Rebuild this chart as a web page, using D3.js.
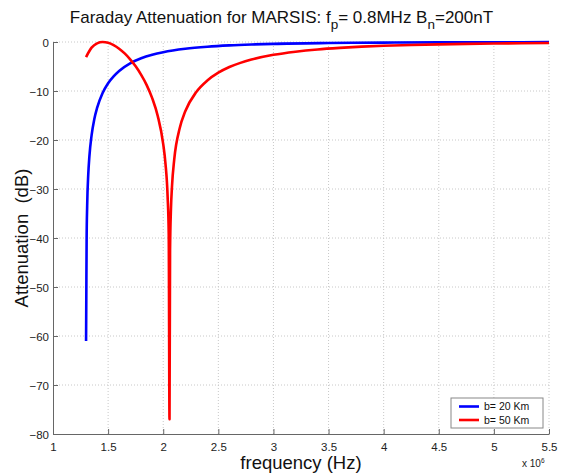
<!DOCTYPE html>
<html>
<head>
<meta charset="utf-8">
<script src="https://cdn.jsdelivr.net/npm/d3@7"></script>
<style>
  body { margin: 0; background: #fff; }
  text { font-family: "Liberation Sans", Arial, sans-serif; }
</style>
</head>
<body>
<div id="chart"></div>
<script>
// valeurs (frequence en x 10^6 Hz, attenuation en dB)
const freqBlue = [1.300, 1.302, 1.305, 1.31, 1.32, 1.33, 1.35, 1.375, 1.40, 1.45, 1.50, 1.55, 1.60, 1.70, 1.80, 1.90, 2.00, 2.20, 2.40, 2.60, 2.80, 3.00, 3.50, 4.00, 4.50, 5.00, 5.50];
const attBlue  = [-61, -52.8, -40.5, -33.4, -27.0, -23.4, -19.05, -15.7, -13.45, -10.4, -8.4, -7.0, -5.9, -4.36, -3.33, -2.61, -2.08, -1.38, -0.96, -0.69, -0.51, -0.38, -0.21, -0.12, -0.075, -0.05, -0.034];

const freqRed = [1.30, 1.35, 1.40, 1.45, 1.50, 1.55, 1.60, 1.65, 1.70, 1.75, 1.80, 1.85, 1.90, 1.95, 2.00, 2.02, 2.04, 2.05, 2.057, 2.062, 2.07, 2.08, 2.10, 2.15, 2.20, 2.30, 2.40, 2.50, 2.60, 2.70, 2.80, 3.00, 3.20, 3.40, 3.60, 3.80, 4.00, 4.25, 4.50, 4.75, 5.00, 5.25, 5.50];
const attRed  = [-3.07, -1.16, -0.27, 0, -0.15, -0.63, -1.36, -2.33, -3.53, -4.97, -6.71, -8.79, -11.46, -15.07, -20.83, -24.7, -31.6, -39.2, -77, -42.5, -34.2, -29.3, -23.95, -17.56, -14.15, -10.2, -7.86, -6.27, -5.11, -4.26, -3.59, -2.62, -1.98, -1.52, -1.2, -0.95, -0.77, -0.6, -0.48, -0.38, -0.31, -0.255, -0.21];

const xTicks = [1, 1.5, 2, 2.5, 3, 3.5, 4, 4.5, 5, 5.5];
const yTicks = [0, -10, -20, -30, -40, -50, -60, -70, -80];
const seriesNames = ["b= 20 Km", "b= 50 Km"];
const seriesColors = ["#0000ff", "#ff0000"];

const width = 561, height = 476;
const marginLeft = 53, marginRight = 12, marginTop = 42, marginBottom = 42;

const x = d3.scaleLinear().domain([1, 5.5]).range([marginLeft, width - marginRight]);
const y = d3.scaleLinear().domain([-80, 0]).range([height - marginBottom, marginTop]);

const svg = d3.select("#chart").append("svg")
    .attr("width", width)
    .attr("height", height);

// grille pointillee
svg.append("g")
    .selectAll("line")
    .data(xTicks.slice(1))
    .join("line")
    .attr("x1", d => x(d)).attr("x2", d => x(d))
    .attr("y1", y(-80)).attr("y2", y(0))
    .attr("stroke", "#c8c8c8")
    .attr("stroke-width", 1)
    .attr("stroke-dasharray", "1,2");

svg.append("g")
    .selectAll("line")
    .data(yTicks.slice(0, -1))
    .join("line")
    .attr("x1", x(1)).attr("x2", x(5.5))
    .attr("y1", d => y(d)).attr("y2", d => y(d))
    .attr("stroke", "#c8c8c8")
    .attr("stroke-width", 1)
    .attr("stroke-dasharray", "1,2");

// axes
const xAxis = svg.append("g")
    .attr("transform", `translate(0,${y(-80)})`)
    .call(d3.axisBottom(x).tickValues(xTicks).tickFormat(d3.format("")).tickSizeInner(-5).tickSizeOuter(0).tickPadding(9));
const yAxis = svg.append("g")
    .attr("transform", `translate(${x(1)},0)`)
    .call(d3.axisLeft(y).tickValues(yTicks).tickFormat(d3.format("")).tickSizeInner(-5).tickSizeOuter(0).tickPadding(4));

[xAxis, yAxis].forEach(g => {
    g.select(".domain").attr("stroke", "#666").attr("stroke-width", 1);
    g.selectAll(".tick line").attr("stroke", "#666");
    g.selectAll(".tick text").attr("fill", "#222").style("font-size", "11.5px")
        .style("font-family", "'Liberation Sans', Arial, sans-serif");
});
yAxis.selectAll(".tick text").attr("dy", "0.35em");

// courbes
const line = d3.line()
    .x(d => x(d[0]))
    .y(d => y(d[1]))
    .curve(d3.curveMonotoneX);

const seriesData = [
    d3.zip(freqBlue, attBlue),
    d3.zip(freqRed, attRed)
];

svg.append("g")
    .selectAll("path")
    .data(seriesData)
    .join("path")
    .attr("d", line)
    .attr("fill", "none")
    .attr("stroke", (d, i) => seriesColors[i])
    .attr("stroke-width", 2.6)
    .attr("stroke-linejoin", "round");

// titre
const title = svg.append("text")
    .attr("x", width / 2 + 1)
    .attr("y", 23)
    .attr("text-anchor", "middle")
    .style("font-size", "17px")
    .attr("fill", "#111");
title.append("tspan").text("Faraday Attenuation for MARSIS: f");
title.append("tspan").attr("dy", 6).style("font-size", "13.5px").text("p");
title.append("tspan").attr("dy", -6).text("= 0.8MHz B");
title.append("tspan").attr("dy", 6).style("font-size", "13.5px").text("n");
title.append("tspan").attr("dy", -6).text("=200nT");

// libelles des axes
svg.append("text")
    .attr("x", (x(1) + x(5.5)) / 2)
    .attr("y", 469)
    .attr("text-anchor", "middle")
    .style("font-size", "18.5px")
    .attr("fill", "#111")
    .text("frequency (Hz)");

svg.append("text")
    .attr("transform", `translate(28,${(y(0) + y(-80)) / 2}) rotate(-90)`)
    .attr("text-anchor", "middle")
    .style("font-size", "18.5px")
    .attr("fill", "#111")
    .attr("xml:space", "preserve")
    .text("Attenuation  (dB)");

const expo = svg.append("text")
    .attr("x", 522)
    .attr("y", 467)
    .style("font-size", "10px")
    .attr("fill", "#222");
expo.append("tspan").text("x 10");
expo.append("tspan").attr("dy", -4).style("font-size", "6.5px").text("6");

// legende
const legend = svg.append("g").attr("transform", "translate(451,398)");
legend.append("rect")
    .attr("width", 92).attr("height", 30)
    .attr("fill", "#fff")
    .attr("stroke", "#888")
    .attr("stroke-width", 1);
seriesNames.forEach((name, i) => {
    legend.append("line")
        .attr("x1", 8).attr("x2", 28)
        .attr("y1", 8.5 + i * 13.5).attr("y2", 8.5 + i * 13.5)
        .attr("stroke", seriesColors[i])
        .attr("stroke-width", 2.6);
    legend.append("text")
        .attr("x", 33).attr("y", 8.5 + i * 13.5)
        .attr("dy", "0.35em")
        .style("font-size", "10.5px")
        .attr("fill", "#111")
        .text(name);
});
</script>
</body>
</html>
